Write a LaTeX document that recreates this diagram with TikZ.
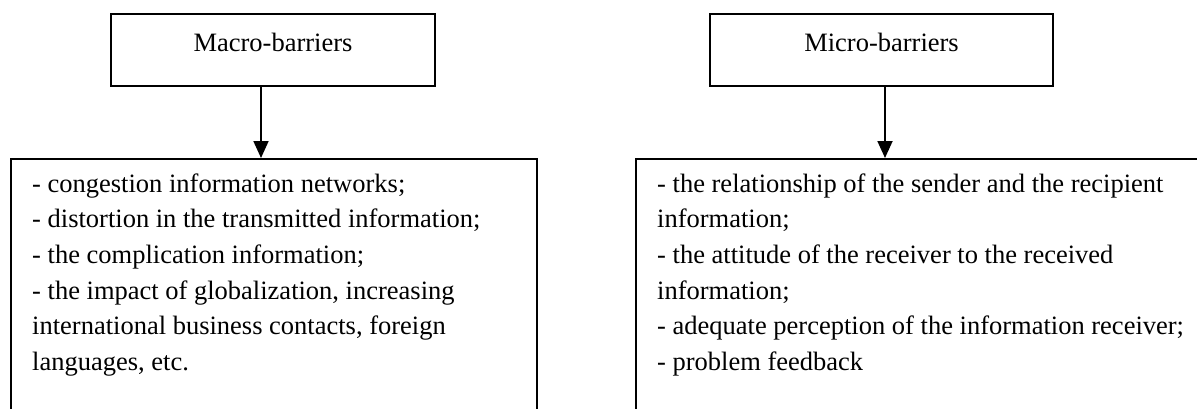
\documentclass[tikz,border=0pt]{standalone}
\usepackage{fontspec}
\setmainfont{Liberation Serif}
\usetikzlibrary{positioning, arrows.meta}

\begin{document}
\begin{tikzpicture}[
  x=1pt, y=1pt,
  font=\fontsize{26.5}{35.6}\selectfont,
  head/.style={draw, line width=1.8pt, minimum height=72pt, inner sep=0pt,
    text height=38pt, text depth=34pt},
  listbox/.style={draw, line width=1.6pt, minimum height=300pt, inner sep=0pt,
    anchor=north west},
  listtext/.style={align=left, inner sep=0pt, anchor=north west},
  arrow/.style={-{Triangle[length=17pt, width=15pt]}, line width=1.8pt},
]
  \useasboundingbox (0,0) rectangle (1197,408);
  \clip (0,0) rectangle (1197,408);

  \node[head, minimum width=324pt] (macro) at (273,358) {Macro-barriers};
  \node[head, minimum width=343pt] (micro) at (881.5,358) {Micro-barriers};

  \node[listbox, minimum width=526pt] (macrolist) at (10,250) {};
  \node[listbox, minimum width=620pt] (microlist) at (635,250) {};

  \node[listtext] (macrotext) at ([xshift=22pt, yshift=-9.1pt]macrolist.north west)
    {\strut- congestion information networks;\\
     - distortion in the transmitted information;\\
     - the complication information;\\
     - the impact of globalization, increasing\\
     international business contacts, foreign\\
     languages, etc.};
  \node[listtext] (microtext) at ([xshift=22pt, yshift=-9.1pt]microlist.north west)
    {\strut- the relationship of the sender and the recipient\\
     information;\\
     - the attitude of the receiver to the received\\
     information;\\
     - adequate perception of the information receiver;\\
     - problem feedback};

  \draw[arrow] ([xshift=-12pt]macro.south) -- ([xshift=-12pt]macro.south |- macrolist.north);
  \draw[arrow] ([xshift=3.5pt]micro.south) -- ([xshift=3.5pt]micro.south |- microlist.north);
\end{tikzpicture}
\end{document}
